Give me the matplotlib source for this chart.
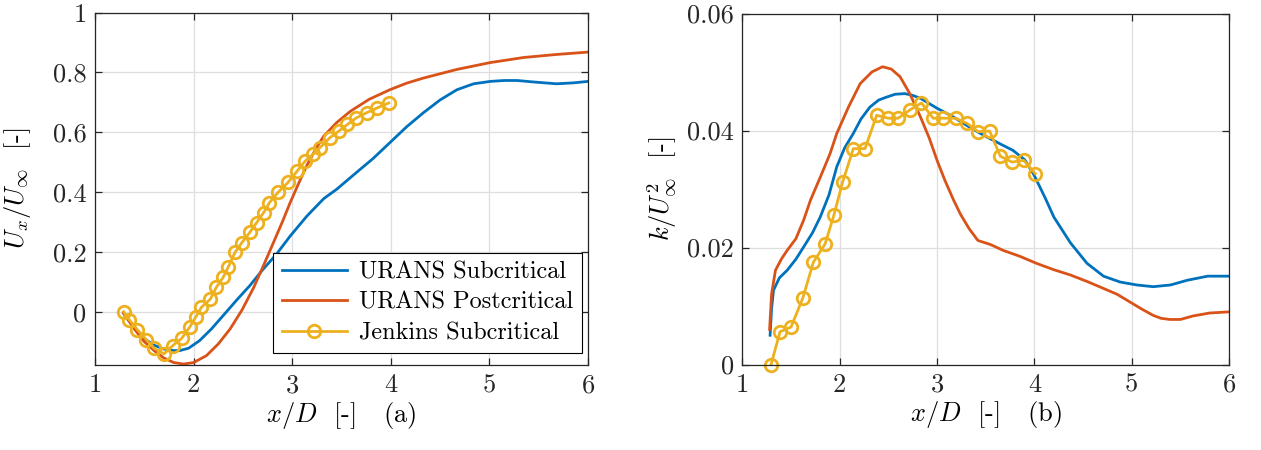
#!/usr/bin/env python3
"""Wake profiles behind the cylinder: mean streamwise velocity (a) and TKE (b)."""

import matplotlib
matplotlib.use("Agg")
import matplotlib.pyplot as plt

plt.rcParams["font.family"] = "serif"
plt.rcParams["font.serif"] = ["cmr10"]
plt.rcParams["mathtext.fontset"] = "cm"
plt.rcParams["axes.formatter.use_mathtext"] = True

# ── Colours (MATLAB default order) ─────────────────────────────────────────────
C_SUB = "#0072BD"
C_POST = "#D95319"
C_JEN = "#EDB120"

# ── (a) mean streamwise velocity ───────────────────────────────────────────────
ux_sub_x = [1.29, 1.40, 1.50, 1.60, 1.70, 1.80, 1.86, 1.95, 2.06, 2.18, 2.30, 2.44,
            2.57, 2.70, 2.84, 2.98, 3.15, 3.32, 3.45, 3.65, 3.82, 3.99, 4.16, 4.33,
            4.50, 4.67, 4.84, 5.01, 5.15, 5.28, 5.45, 5.68, 5.85, 6.00]
ux_sub_y = [-0.005, -0.055, -0.090, -0.112, -0.125, -0.130, -0.130, -0.122, -0.097,
            -0.058, -0.013, 0.040, 0.087, 0.140, 0.192, 0.253, 0.320, 0.378, 0.409,
            0.465, 0.512, 0.565, 0.618, 0.665, 0.708, 0.742, 0.762, 0.770, 0.773,
            0.773, 0.768, 0.762, 0.765, 0.770]

ux_post_x = [1.29, 1.40, 1.50, 1.60, 1.70, 1.80, 1.90, 2.00, 2.13, 2.25, 2.37, 2.49,
             2.61, 2.71, 2.81, 2.90, 2.98, 3.06, 3.15, 3.24, 3.32, 3.45, 3.59, 3.78,
             3.99, 4.16, 4.33, 4.67, 5.01, 5.35, 5.68, 6.00]
ux_post_y = [-0.005, -0.058, -0.100, -0.130, -0.155, -0.170, -0.175, -0.170, -0.147,
             -0.108, -0.058, 0.005, 0.081, 0.155, 0.231, 0.300, 0.365, 0.425, 0.490,
             0.545, 0.587, 0.632, 0.670, 0.710, 0.742, 0.764, 0.781, 0.810, 0.833,
             0.850, 0.860, 0.868]

ux_jen_x = [1.29, 1.35, 1.43, 1.52, 1.60, 1.70, 1.79, 1.88, 1.96, 2.02, 2.08, 2.17,
            2.23, 2.30, 2.35, 2.42, 2.49, 2.57, 2.64, 2.71, 2.77, 2.86, 2.96, 3.05,
            3.13, 3.21, 3.28, 3.38, 3.47, 3.56, 3.65, 3.76, 3.86, 3.98]
ux_jen_y = [0.000, -0.028, -0.060, -0.093, -0.122, -0.141, -0.113, -0.089, -0.052,
            -0.019, 0.015, 0.042, 0.081, 0.115, 0.148, 0.198, 0.231, 0.265, 0.298,
            0.331, 0.365, 0.400, 0.433, 0.470, 0.503, 0.526, 0.548, 0.581, 0.603,
            0.626, 0.648, 0.666, 0.681, 0.698]

# ── (b) turbulent kinetic energy ───────────────────────────────────────────────
k_sub_x = [1.285, 1.30, 1.32, 1.38, 1.46, 1.55, 1.63, 1.72, 1.80, 1.89, 1.97, 2.05,
           2.14, 2.22, 2.31, 2.40, 2.48, 2.57, 2.67, 2.75, 2.83, 3.00, 3.17, 3.34,
           3.51, 3.65, 3.78, 3.90, 3.99, 4.11, 4.20, 4.37, 4.54, 4.71, 4.88, 5.05,
           5.22, 5.40, 5.57, 5.78, 6.00]
k_sub_y = [0.0050, 0.0095, 0.0127, 0.0148, 0.0161, 0.0180, 0.0201, 0.0225, 0.0252,
           0.0290, 0.0338, 0.0370, 0.0395, 0.0420, 0.0440, 0.0452, 0.0457, 0.0462,
           0.0463, 0.0460, 0.0455, 0.0438, 0.0423, 0.0405, 0.0389, 0.0377, 0.0366,
           0.0350, 0.0326, 0.0285, 0.0252, 0.0208, 0.0173, 0.0151, 0.0141, 0.0136,
           0.0133, 0.0136, 0.0144, 0.0151, 0.0151]

k_post_x = [1.28, 1.30, 1.34, 1.40, 1.46, 1.55, 1.63, 1.70, 1.80, 1.90, 1.97, 2.09,
            2.21, 2.33, 2.44, 2.53, 2.62, 2.72, 2.83, 2.92, 3.00, 3.08, 3.17, 3.24,
            3.33, 3.42, 3.55, 3.68, 3.85, 4.02, 4.20, 4.37, 4.54, 4.71, 4.85, 4.98,
            5.10, 5.22, 5.30, 5.39, 5.50, 5.63, 5.80, 6.00]
k_post_y = [0.0060, 0.0120, 0.0161, 0.0180, 0.0195, 0.0215, 0.0247, 0.0281, 0.0320,
            0.0360, 0.0395, 0.0440, 0.0480, 0.0500, 0.0509, 0.0505, 0.0492, 0.0463,
            0.0423, 0.0387, 0.0349, 0.0315, 0.0281, 0.0257, 0.0232, 0.0212, 0.0205,
            0.0195, 0.0185, 0.0173, 0.0162, 0.0153, 0.0142, 0.0130, 0.0120, 0.0107,
            0.0095, 0.0084, 0.0079, 0.0077, 0.0077, 0.0083, 0.0088, 0.0090]

k_jen_x = [1.295, 1.387, 1.50, 1.62, 1.73, 1.85, 1.94, 2.03, 2.14, 2.26, 2.38, 2.50,
           2.60, 2.72, 2.84, 2.96, 3.06, 3.19, 3.31, 3.42, 3.54, 3.65, 3.77, 3.89,
           4.01]
k_jen_y = [0.0000, 0.0056, 0.0064, 0.0113, 0.0175, 0.0206, 0.0255, 0.0312, 0.0369,
           0.0369, 0.0426, 0.0421, 0.0421, 0.0435, 0.0447, 0.0421, 0.0421, 0.0421,
           0.0412, 0.0398, 0.0399, 0.0356, 0.0346, 0.0349, 0.0326]

X_TICKS = [1, 2, 3, 4, 5, 6]
UX_TICKS = [0, 0.2, 0.4, 0.6, 0.8, 1]
UX_TICKLABELS = ["0", "0.2", "0.4", "0.6", "0.8", "1"]
K_TICKS = [0, 0.02, 0.04, 0.06]
K_TICKLABELS = ["0", "0.02", "0.04", "0.06"]

FS_TICK = 19
FS_LABEL = 19
FS_LEG = 17.5
LW = 2.0


def style_axes(ax):
    ax.grid(True, color="#dedede", linewidth=0.9)
    ax.set_axisbelow(True)
    for sp in ax.spines.values():
        sp.set_color("#262626")
        sp.set_linewidth(0.9)
    ax.tick_params(direction="in", length=5, width=0.9, colors="#262626",
                   labelsize=FS_TICK, top=True, right=True, pad=6)
    ax.set_xticks(X_TICKS)
    ax.set_xticklabels([str(t) for t in X_TICKS])
    ax.set_xlim(1, 6)


fig = plt.figure(figsize=(12.61, 4.5), dpi=100)
ax1 = fig.add_axes([0.0753, 0.189, 0.391, 0.783])
ax2 = fig.add_axes([0.5887, 0.190, 0.386, 0.780])

# ── Panel (a) ──────────────────────────────────────────────────────────────────
style_axes(ax1)
ax1.plot(ux_sub_x, ux_sub_y, color=C_SUB, lw=LW, label="URANS Subcritical")
ax1.plot(ux_post_x, ux_post_y, color=C_POST, lw=LW, label="URANS Postcritical")
ax1.plot(ux_jen_x, ux_jen_y, color=C_JEN, lw=LW, marker="o", ms=9,
         mfc="none", mew=LW, label="Jenkins Subcritical")
ax1.set_ylim(-0.178, 1)
ax1.set_yticks(UX_TICKS)
ax1.set_yticklabels(UX_TICKLABELS)
ax1.set_xlabel(r"$x/D$  [-]   (a)", fontsize=FS_LABEL, labelpad=2)
ax1.set_ylabel(r"$U_x/U_\infty$  [-]", fontsize=FS_LABEL, labelpad=14)

leg = ax1.legend(loc="lower right", bbox_to_anchor=(0.988, 0.034), fontsize=FS_LEG,
                 frameon=True, fancybox=False, framealpha=1, edgecolor="black",
                 handlelength=2.7, handletextpad=0.5, borderpad=0.35,
                 labelspacing=0.35, borderaxespad=0)
leg.get_frame().set_linewidth(0.8)

# ── Panel (b) ──────────────────────────────────────────────────────────────────
style_axes(ax2)
ax2.plot(k_sub_x, k_sub_y, color=C_SUB, lw=LW)
ax2.plot(k_post_x, k_post_y, color=C_POST, lw=LW)
ax2.plot(k_jen_x, k_jen_y, color=C_JEN, lw=LW, marker="o", ms=9,
         mfc="none", mew=LW, clip_on=False)
ax2.set_ylim(0, 0.06)
ax2.set_yticks(K_TICKS)
ax2.set_yticklabels(K_TICKLABELS)
ax2.set_xlabel(r"$x/D$  [-]   (b)", fontsize=FS_LABEL, labelpad=2)
ax2.set_ylabel(r"$k/U_\infty^2$  [-]", fontsize=FS_LABEL, labelpad=6)

fig.savefig("out.png", dpi=100)
